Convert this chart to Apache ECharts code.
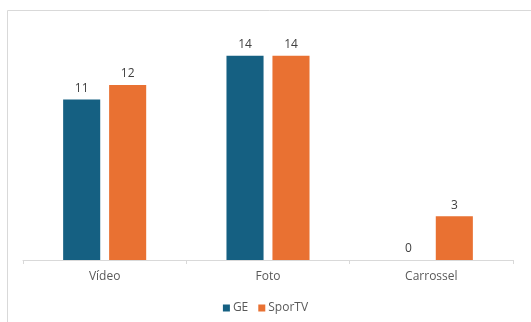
<!DOCTYPE html>
<html>
<head>
<meta charset="utf-8">
<script src="https://cdn.jsdelivr.net/npm/echarts@6/dist/echarts.min.js"></script>
<style>
  html, body { margin: 0; padding: 0; background: #fff; }
  #chart { width: 531px; height: 322px; }
</style>
</head>
<body>
<div id="chart"></div>
<script>
// Post counts by format
const categories = ['Vídeo', 'Foto', 'Carrossel'];
const geValues = [11, 14, 0];
const sportvValues = [12, 14, 3];

const font = "'Open Sans', 'Liberation Sans', sans-serif";
const textColor = '#595959';

const chart = echarts.init(document.getElementById('chart'), null, { renderer: 'canvas' });

const labelStyle = {
  show: true,
  position: 'top',
  distance: 5,
  color: '#404040',
  fontSize: 12,
  fontFamily: font
};

chart.setOption({
  animation: false,
  graphic: [{
    type: 'rect',
    shape: { x: 7.5, y: 10.5, width: 600, height: 400 },
    style: { fill: 'none', stroke: '#d9d9d9', lineWidth: 1 },
    silent: true,
    z: -1
  }],
  grid: { left: 23, right: 18, top: 26.7, bottom: 62, containLabel: false },
  legend: {
    bottom: 3,
    left: 'center',
    itemWidth: 7,
    itemHeight: 7,
    itemGap: 10,
    icon: 'rect',
    textStyle: { color: textColor, fontSize: 12, fontFamily: font, padding: [0, 0, 0, -2] },
    data: ['GE', 'SporTV']
  },
  xAxis: {
    type: 'category',
    data: categories,
    axisLine: { lineStyle: { color: '#d9d9d9', width: 1 } },
    axisTick: { show: true, length: 4, lineStyle: { color: '#d9d9d9' } },
    axisLabel: { color: textColor, fontSize: 12, fontFamily: font, margin: 11 }
  },
  yAxis: {
    type: 'value',
    min: 0,
    max: 16,
    show: false,
    splitLine: { show: false }
  },
  series: [
    {
      name: 'GE',
      type: 'bar',
      data: geValues,
      barWidth: '22.7%',
      barGap: '24%',
      itemStyle: { color: '#156082' },
      label: labelStyle
    },
    {
      name: 'SporTV',
      type: 'bar',
      data: sportvValues,
      barWidth: '22.7%',
      itemStyle: { color: '#E97132' },
      label: labelStyle
    }
  ]
});
</script>
</body>
</html>
